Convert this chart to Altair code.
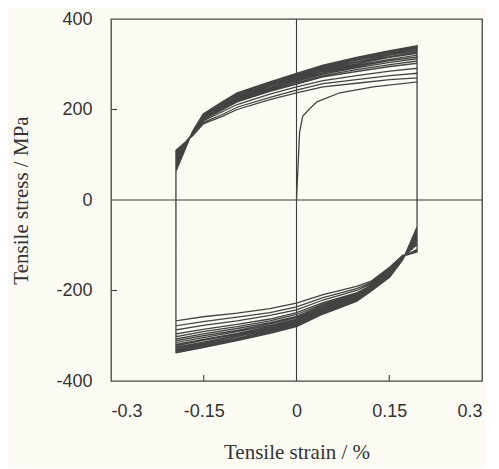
import altair as alt
import pandas as pd

# ---- data ----
# initial loading (strain %, stress MPa)
init_strain = [0.0, 0.005, 0.01, 0.02, 0.033, 0.07, 0.124, 0.195]
init_stress = [0, 150, 185, 200, 217, 237, 250, 261]

# strain grid of the reloading (upper) branches
up_strain = [-0.195, -0.168, -0.151, -0.12, -0.096, -0.043, 0.0, 0.043, 0.097, 0.151, 0.195]
# stress of each reloading branch on that grid
up_rows = [
    [110, 142, 168, 185, 200, 222, 237, 250, 258, 266, 270],
    [108, 143, 171, 189, 205, 227, 243, 257, 266, 275, 280],
    [105, 145, 175, 195, 211, 234, 250, 264, 275, 285, 291],
    [102, 147, 178, 199, 217, 240, 256, 272, 284, 295, 302],
    [98, 147, 179, 202, 219, 242, 259, 275, 288, 299, 307],
    [93, 148, 181, 204, 222, 245, 262, 278, 292, 304, 312],
    [89, 149, 182, 206, 224, 247, 265, 281, 295, 308, 316],
    [85, 149, 183, 207, 226, 249, 267, 284, 298, 311, 320],
    [81, 150, 185, 209, 228, 252, 270, 286, 301, 315, 324],
    [78, 150, 186, 211, 230, 253, 271, 288, 304, 317, 327],
    [75, 151, 187, 212, 231, 255, 274, 291, 306, 320, 330],
    [72, 151, 188, 213, 233, 257, 275, 293, 309, 323, 333],
    [69, 151, 188, 215, 234, 258, 277, 295, 311, 326, 336],
    [67, 152, 189, 216, 236, 259, 278, 296, 313, 327, 338],
    [65, 152, 190, 217, 237, 261, 280, 298, 314, 329, 340],
    [63, 152, 190, 217, 237, 261, 280, 298, 315, 330, 341],
]

# strain grid of the unloading (lower) branches
down_strain = [0.195, 0.172, 0.151, 0.12, 0.097, 0.043, 0.0, -0.043, -0.096, -0.151, -0.195]
down_rows = [
    [-115, -122, -148, -180, -191, -209, -228, -240, -250, -258, -267],
    [-115, -124, -151, -183, -196, -216, -236, -249, -259, -269, -278],
    [-112, -125, -154, -186, -200, -221, -243, -255, -267, -277, -287],
    [-109, -126, -157, -189, -205, -227, -249, -263, -275, -286, -296],
    [-98, -127, -159, -191, -207, -230, -253, -267, -280, -291, -302],
    [-93, -128, -160, -192, -209, -233, -257, -271, -284, -296, -307],
    [-88, -128, -162, -194, -211, -236, -260, -274, -288, -300, -311],
    [-84, -129, -163, -195, -213, -238, -263, -277, -291, -304, -315],
    [-80, -129, -164, -196, -215, -240, -266, -280, -295, -308, -319],
    [-76, -130, -165, -197, -216, -242, -268, -282, -297, -310, -322],
    [-73, -130, -166, -198, -218, -244, -271, -285, -300, -314, -325],
    [-70, -131, -167, -199, -219, -246, -273, -287, -302, -316, -328],
    [-67, -131, -168, -200, -221, -248, -275, -290, -305, -319, -331],
    [-64, -131, -168, -200, -222, -249, -276, -291, -307, -321, -333],
    [-62, -132, -169, -201, -223, -250, -278, -293, -309, -323, -335],
    [-60, -132, -170, -202, -224, -252, -279, -294, -310, -325, -337],
    [-59, -132, -170, -202, -224, -252, -280, -295, -311, -326, -338],
]

x_ticks = [-0.3, -0.15, 0, 0.15, 0.3]
y_ticks = [-400, -200, 0, 200, 400]
x_inner_ticks = [-0.15, 0.15]
y_inner_ticks = [-200, 200]

# ---- build the continuous loading path ----
xs, ys = list(init_strain), list(init_stress)
xs += down_strain
ys += down_rows[0]
for k in range(len(up_rows)):
    xs += up_strain
    ys += up_rows[k]
    xs += down_strain
    ys += down_rows[k + 1]
path = pd.DataFrame({"strain": xs, "stress": ys, "i": list(range(len(xs)))})

W, H = 371, 362
INK = "#3c3c3c"
xscale = alt.Scale(domain=[-0.3, 0.3], nice=False, zero=False)
yscale = alt.Scale(domain=[-400, 400], nice=False, zero=False)

loops = alt.Chart(path).mark_line(color="#454342", strokeWidth=1.3, clip=True).encode(
    x=alt.X("strain:Q", scale=xscale,
            axis=alt.Axis(values=x_ticks, title="Tensile strain / %", grid=False,
                          ticks=False, domain=False, labelPadding=21,
                          labelExpr="'' + datum.value", titlePadding=21)),
    y=alt.Y("stress:Q", scale=yscale,
            axis=alt.Axis(values=y_ticks, title="Tensile stress / MPa", grid=False,
                          ticks=False, domain=False, labelPadding=19,
                          labelExpr="'' + datum.value", titlePadding=24)),
    order="i:Q",
)

zero_v = alt.Chart(pd.DataFrame({"strain": [0.0]})).mark_rule(color=INK, strokeWidth=1.1).encode(
    x=alt.X("strain:Q", scale=xscale))
zero_h = alt.Chart(pd.DataFrame({"stress": [0.0]})).mark_rule(color=INK, strokeWidth=1.1).encode(
    y=alt.Y("stress:Q", scale=yscale))

tick_x = alt.Chart(pd.DataFrame({"strain": x_inner_ticks})).mark_rule(color=INK, strokeWidth=1.1).encode(
    x=alt.X("strain:Q", scale=xscale), y=alt.value(H), y2=alt.value(H - 6))
tick_y = alt.Chart(pd.DataFrame({"stress": y_inner_ticks})).mark_rule(color=INK, strokeWidth=1.1).encode(
    y=alt.Y("stress:Q", scale=yscale), x=alt.value(0), x2=alt.value(6))

chart = alt.layer(zero_v, zero_h, tick_x, tick_y, loops).properties(
    width=W, height=H,
    autosize=alt.AutoSizeParams(type="none"),
    padding={"left": 103, "top": 11, "right": 3, "bottom": 87},
    background="#fbfbf3",
).configure_view(
    stroke="#444444", strokeWidth=1.3
).configure_axis(
    labelFont="Liberation Sans", labelFontSize=18, labelColor="#333333",
    titleFont="Liberation Serif", titleFontSize=21, titleFontWeight="normal",
    titleColor="#333333",
)

chart.save("out.html", embed_options={"renderer": "svg", "actions": False})
